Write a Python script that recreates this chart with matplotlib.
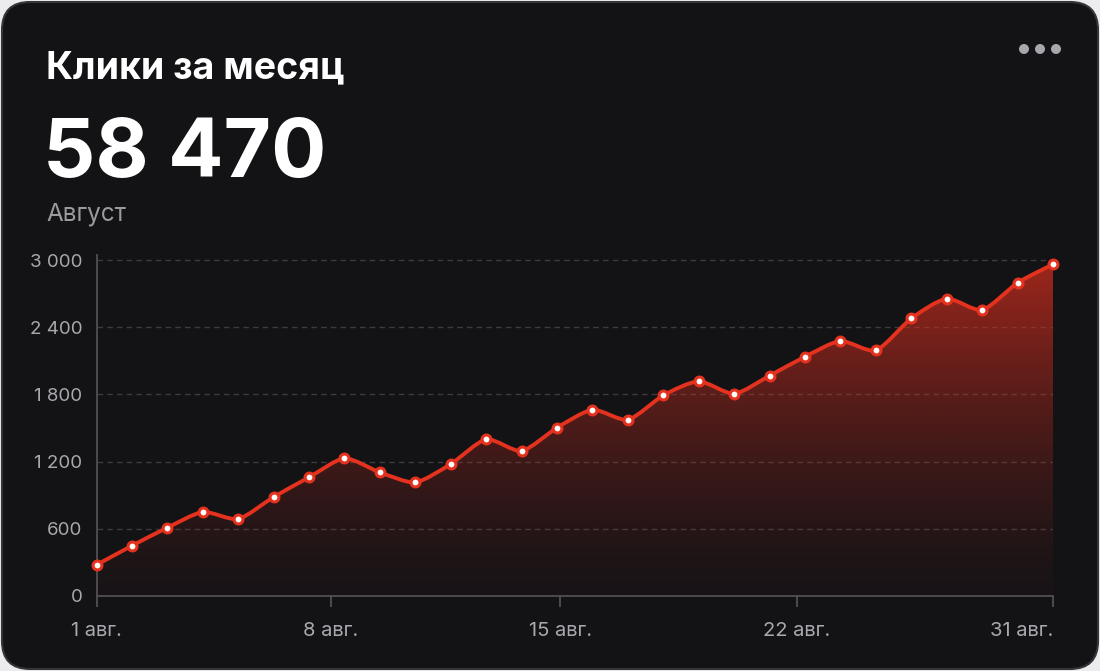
import numpy as np
import matplotlib
matplotlib.use('Agg')
import matplotlib.pyplot as plt
from matplotlib.path import Path
from matplotlib.patches import PathPatch, FancyBboxPatch, Circle
from matplotlib.ticker import FuncFormatter

plt.rcParams['font.family'] = ['Inter', 'DejaVu Sans']

# data
clicks = [277, 449, 610, 750, 688, 884, 1060, 1229, 1104, 1015,
          1178, 1399, 1295, 1503, 1663, 1574, 1792, 1917, 1806, 1967,
          2137, 2277, 2194, 2479, 2655, 2554, 2797, 2962]
tick_pos = [0, 6.62, 13.09, 19.77, 27]
tick_labels = ['1 авг.', '8 авг.', '15 авг.', '22 авг.', '31 авг.']
y_ticks = [0, 600, 1200, 1800, 2400, 3000]
title = 'Клики за месяц'
total = '58 470'
month = 'Август'

RED = '#e5321f'
CARD = '#131316'
W, H = 1100, 671

fig = plt.figure(figsize=(11, 6.71), dpi=100)
fig.patch.set_facecolor('#ececee')

# card background, pixel coordinates
bg = fig.add_axes([0, 0, 1, 1], zorder=-1)
bg.set_xlim(0, W)
bg.set_ylim(H, 0)
bg.axis('off')
bg.add_patch(FancyBboxPatch((2, 2), W - 4, H - 4,
                            boxstyle='round,pad=0,rounding_size=28',
                            fc=CARD, ec='#34343a', lw=1.5))
bg.text(46, 78, title, color='white', fontsize=27, fontweight='bold', va='baseline')
bg.text(43, 177, total, color='white', fontsize=59, fontweight='bold', va='baseline')
bg.text(46, 220, month, color='#9a9a9f', fontsize=17.5, va='baseline')
for cx in (1024, 1040, 1056):
    bg.add_patch(Circle((cx, 49), 5, color='#a6a6ad', lw=0))

# chart area
x0, x1 = 96.5, 1053
y_top, y_bot = 255, 596
ax = fig.add_axes([x0 / W, (H - y_bot) / H, (x1 - x0) / W, (y_bot - y_top) / H])
ax.set_facecolor('none')

x = np.arange(len(clicks))
y = np.array(clicks, dtype=float)
ymax = 3045
ax.set_xlim(0, len(clicks) - 1)
ax.set_ylim(0, ymax)

# smooth path through the points (catmull-rom as bezier)
verts = [(x[0], y[0])]
codes = [Path.MOVETO]
t = 0.12
for i in range(len(x) - 1):
    p0 = (x[i - 1], y[i - 1]) if i > 0 else (x[i], y[i])
    p1 = (x[i], y[i])
    p2 = (x[i + 1], y[i + 1])
    p3 = (x[i + 2], y[i + 2]) if i + 2 < len(x) else p2
    c1 = (p1[0] + (p2[0] - p0[0]) * t, p1[1] + (p2[1] - p0[1]) * t)
    c2 = (p2[0] - (p3[0] - p1[0]) * t, p2[1] - (p3[1] - p1[1]) * t)
    verts += [c1, c2, p2]
    codes += [Path.CURVE4] * 3
line_path = Path(verts, codes)
fill_path = Path(verts + [(x[-1], 0), (x[0], 0), (x[0], y[0])],
                 codes + [Path.LINETO, Path.LINETO, Path.CLOSEPOLY])

# gradient fill under the line
n = 256
grad = np.zeros((n, 1, 4))
grad[:, 0, 0] = 0.80
grad[:, 0, 1] = 0.18
grad[:, 0, 2] = 0.12
h = np.linspace(1, 0, n)
grad[:, 0, 3] = 0.03 + 0.74 * h ** 1.4
im = ax.imshow(grad, extent=[0, len(clicks) - 1, 0, ymax], aspect='auto',
               origin='upper', zorder=1, interpolation='bilinear')
clip = PathPatch(fill_path, fc='none', ec='none', transform=ax.transData)
ax.add_patch(clip)
im.set_clip_path(clip)

ax.add_patch(PathPatch(line_path, fc='none', ec=RED, lw=2.8, zorder=3,
                       capstyle='round', joinstyle='round'))
ax.plot(x, y, ls='none', marker='o', ms=6.4, mfc='white', mec=RED, mew=2.2,
        zorder=4, clip_on=False)

# grid and axes
ax.set_yticks(y_ticks)
ax.yaxis.set_major_formatter(FuncFormatter(lambda v, p: f'{v:,.0f}'.replace(',', ' ')))
for v in y_ticks[1:]:
    ax.axhline(v, color='#3b3b40', lw=1, ls=(0, (4, 3)), zorder=0)
ax.set_xticks(tick_pos)
ax.set_xticklabels(tick_labels)
ax.get_xticklabels()[-1].set_horizontalalignment('right')

for s in ('top', 'right'):
    ax.spines[s].set_visible(False)
for s in ('left', 'bottom'):
    ax.spines[s].set_color('#505055')
    ax.spines[s].set_linewidth(1.3)
ax.tick_params(axis='y', length=0, pad=10, labelsize=13.5, labelcolor='#a8a8ae')
ax.tick_params(axis='x', length=8, width=1.3, color='#505055', pad=11,
               labelsize=14.5, labelcolor='#a8a8ae')

fig.savefig('out.png', dpi=100, facecolor=fig.get_facecolor())
